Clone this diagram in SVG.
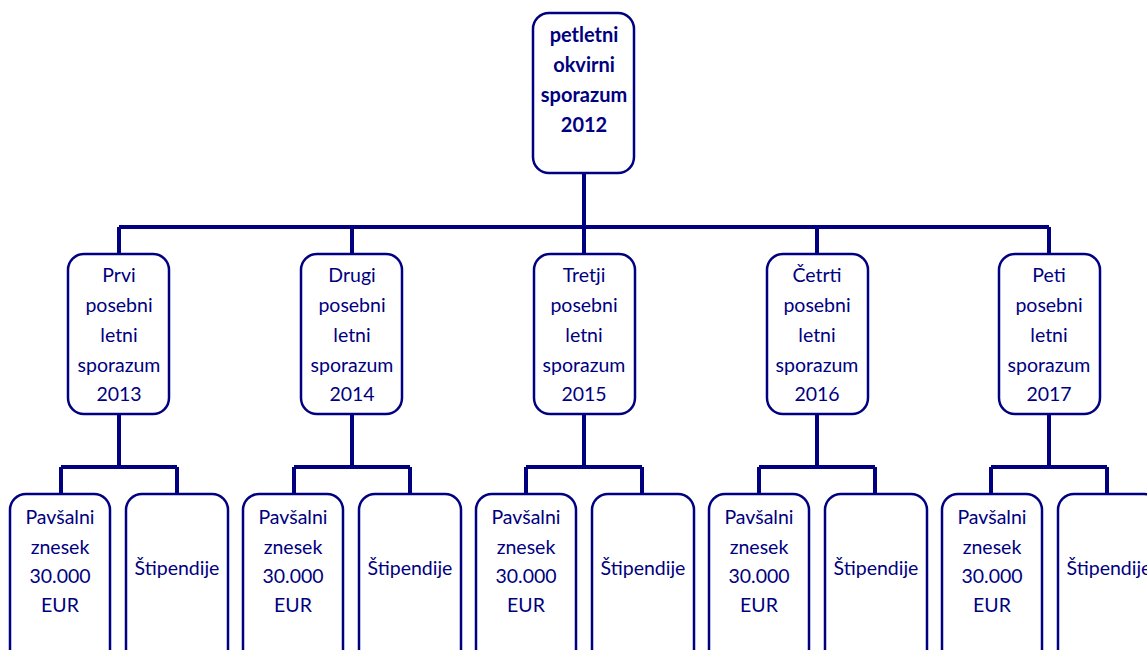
<svg xmlns="http://www.w3.org/2000/svg" width="1147" height="650" viewBox="0 0 1147 650">
<style>
.box{fill:#fff;stroke:#000080;stroke-width:2.5}
.c{fill:none;stroke:#000080;stroke-width:4}
text{font-family:Lato,"Open Sans","Liberation Sans",sans-serif;font-size:19.5px;fill:#000080;text-anchor:middle;dominant-baseline:central}
.b{font-weight:bold;font-size:20px}
</style>
<rect width="1147" height="650" fill="#fff"/>
<g id="connectors">
<path class="c" d="M584 173V227M119 227H1049M119 227V254M352 227V254M584 227V254M817 227V254M1049 227V254"/>
<path class="c" d="M119 414V467M61 467H177M61 467V494M177 467V494"/>
<path class="c" d="M352 414V467M294 467H410M294 467V494M410 467V494"/>
<path class="c" d="M584 414V467M526 467H642M526 467V494M642 467V494"/>
<path class="c" d="M817 414V467M759 467H875M759 467V494M875 467V494"/>
<path class="c" d="M1049 414V467M991 467H1107M991 467V494M1107 467V494"/>
</g>
<g id="root">
<rect class="box" x="533" y="13" width="101" height="160" rx="16"/>
<text class="b" x="584" y="34">petletni</text>
<text class="b" x="584" y="64">okvirni</text>
<text class="b" x="584" y="94">sporazum</text>
<text class="b" x="584" y="124">2012</text>
</g>
<g id="y2013">
<rect class="box" x="68" y="254" width="101" height="160" rx="16"/>
<text x="119" y="274">Prvi</text><text x="119" y="304">posebni</text><text x="119" y="334">letni</text><text x="119" y="364">sporazum</text><text x="119" y="393">2013</text>
</g>
<g id="y2014">
<rect class="box" x="301" y="254" width="101" height="160" rx="16"/>
<text x="352" y="274">Drugi</text><text x="352" y="304">posebni</text><text x="352" y="334">letni</text><text x="352" y="364">sporazum</text><text x="352" y="393">2014</text>
</g>
<g id="y2015">
<rect class="box" x="534" y="254" width="101" height="160" rx="16"/>
<text x="584" y="274">Tretji</text><text x="584" y="304">posebni</text><text x="584" y="334">letni</text><text x="584" y="364">sporazum</text><text x="584" y="393">2015</text>
</g>
<g id="y2016">
<rect class="box" x="767" y="254" width="101" height="160" rx="16"/>
<text x="817" y="274">Četrti</text><text x="817" y="304">posebni</text><text x="817" y="334">letni</text><text x="817" y="364">sporazum</text><text x="817" y="393">2016</text>
</g>
<g id="y2017">
<rect class="box" x="999" y="254" width="101" height="160" rx="16"/>
<text x="1049" y="274">Peti</text><text x="1049" y="304">posebni</text><text x="1049" y="334">letni</text><text x="1049" y="364">sporazum</text><text x="1049" y="393">2017</text>
</g>
<g id="p2013">
<rect class="box" x="10" y="494" width="100" height="200" rx="16"/>
<text x="60" y="516">Pavšalni</text><text x="60" y="546">znesek</text><text x="60" y="575">30.000</text><text x="60" y="604">EUR</text>
</g>
<g id="s2013">
<rect class="box" x="126" y="494" width="102" height="200" rx="16"/>
<text x="177" y="567">Štipendije</text>
</g>
<g id="p2014">
<rect class="box" x="243" y="494" width="100" height="200" rx="16"/>
<text x="293" y="516">Pavšalni</text><text x="293" y="546">znesek</text><text x="293" y="575">30.000</text><text x="293" y="604">EUR</text>
</g>
<g id="s2014">
<rect class="box" x="359" y="494" width="102" height="200" rx="16"/>
<text x="410" y="567">Štipendije</text>
</g>
<g id="p2015">
<rect class="box" x="476" y="494" width="100" height="200" rx="16"/>
<text x="526" y="516">Pavšalni</text><text x="526" y="546">znesek</text><text x="526" y="575">30.000</text><text x="526" y="604">EUR</text>
</g>
<g id="s2015">
<rect class="box" x="592" y="494" width="102" height="200" rx="16"/>
<text x="643" y="567">Štipendije</text>
</g>
<g id="p2016">
<rect class="box" x="709" y="494" width="100" height="200" rx="16"/>
<text x="759" y="516">Pavšalni</text><text x="759" y="546">znesek</text><text x="759" y="575">30.000</text><text x="759" y="604">EUR</text>
</g>
<g id="s2016">
<rect class="box" x="825" y="494" width="102" height="200" rx="16"/>
<text x="876" y="567">Štipendije</text>
</g>
<g id="p2017">
<rect class="box" x="942" y="494" width="100" height="200" rx="16"/>
<text x="992" y="516">Pavšalni</text><text x="992" y="546">znesek</text><text x="992" y="575">30.000</text><text x="992" y="604">EUR</text>
</g>
<g id="s2017">
<rect class="box" x="1058" y="494" width="102" height="200" rx="16"/>
<text x="1109" y="567">Štipendije</text>
</g>
</svg>
